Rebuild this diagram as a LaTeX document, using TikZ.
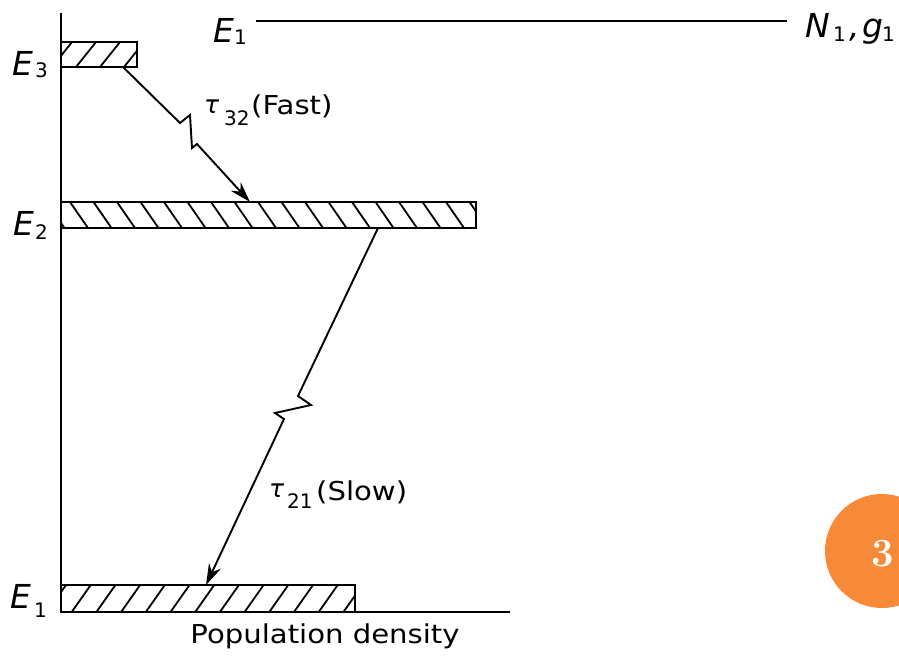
\documentclass[tikz,border=0pt]{standalone}
\usepackage{fontspec}
\newfontfamily\lab{DejaVu Sans}
\usetikzlibrary{arrows.meta,calc}
\definecolor{badge}{HTML}{F68A38}
\newcommand\widetext[1]{\scalebox{1.12}[1]{#1}}
\begin{document}
\begin{tikzpicture}[x=1pt,y=-1pt,
  lvlbox/.style={draw, line width=2.3pt, inner sep=0pt, outer sep=0pt, anchor=north west},
  hatchln/.style={line width=1.8pt},
  axisln/.style={line width=2.1pt},
  trans/.style={line width=1.9pt, line join=miter, -{Stealth[length=21pt,width=13pt]}},
  elab/.style={font=\lab\fontsize{33}{33}\selectfont\itshape, anchor=base west, inner sep=0pt},
  sublab/.style={font=\lab\fontsize{20}{20}\selectfont, anchor=base west, inner sep=0pt},
  txt/.style={font=\lab\fontsize{26}{26}\selectfont, anchor=base west, inner sep=0pt},
  taulab/.style={font=\lab\fontsize{25}{25}\selectfont\itshape, anchor=base west, inner sep=0pt},
]
\useasboundingbox (0,0) rectangle (899,659);

% hatching
\begin{scope}
  \clip (61,42) rectangle (137,67);
  \foreach \x in {52,76,...,150} \draw[hatchln] (\x,67) -- ++(20,-25);
\end{scope}
\begin{scope}
  \clip (61,202) rectangle (476,228);
  \foreach \x in {46.5,70,...,480} \draw[hatchln] (\x,202) -- ++(18,26);
\end{scope}
\begin{scope}
  \clip (61,585) rectangle (355,612);
  \foreach \x in {47,71.7,...,360} \draw[hatchln] (\x,612) -- ++(19,-27);
\end{scope}

% level boxes
\node[lvlbox, minimum width=76pt, minimum height=25pt] (e3) at (61,42) {};
\node[lvlbox, minimum width=415pt, minimum height=26pt] (e2) at (61,202) {};
\node[lvlbox, minimum width=294pt, minimum height=27pt] (e1) at (61,585) {};

% axes
\coordinate (ytop) at (61,13);
\coordinate (orig) at (61,612);
\coordinate (xend) at (510,612);
\draw[axisln] (ytop) -- (orig) -- (xend);

% level labels
\node[elab] (le3) at (12,75) {E};
\node[sublab] (le3s) at (35,77) {3};
\node[elab] (le2) at (13,235) {E};
\node[sublab] (le2s) at (35,239) {2};
\node[elab] (le1) at (10,608) {E};
\node[sublab] (le1s) at (34,617) {1};

% top line
\node[elab] (te) at (213,42) {E};
\node[sublab] (tes) at (234,44) {1};
\node[elab] (tn) at (805,37) {N};
\node[sublab] (tns) at (833,41) {1};
\node[elab] (tc) at (849,37) {,};
\node[elab] (tg) at (862,37) {g};
\node[sublab] (tgs) at (882,41) {1};
\coordinate (tl1) at (256,21);
\coordinate (tl2) at (787,21);
\draw[line width=2.3pt] (tl1) -- (tl2);

% transitions
\coordinate (a1s) at ($(e3.south west)+(62,0)$);
\coordinate (a1e) at ($(e2.north west)+(189,0)$);
\draw[trans] (a1s) -- (180,123) -- (190,115) -- (192,148) -- (197,144) -- (a1e);
\coordinate (a2s) at ($(e2.south west)+(317,0)$);
\coordinate (a2e) at ($(e1.north west)+(145,0)$);
\draw[trans] (a2s) -- (298,396) -- (311,405) -- (275,413) -- (284,419) -- (a2e);

% transition labels
\node[taulab] (t32) at (204,113) {τ};
\node[sublab] (t32s) at (224,125) {32};
\node[txt] (t32t) at (251,114) {\widetext{(Fast)}};
\node[taulab] (t21) at (269,497) {τ};
\node[sublab] (t21s) at (287,508) {21};
\node[txt] (t21t) at (316,500) {\widetext{(Slow)}};

% axis label
\node[txt, anchor=base] (pd) at (325,643) {\widetext{Population density}};

% page badge
\fill[badge] (882,551) circle (57);
\node[text=white, font=\fontsize{40}{40}\selectfont\bfseries] (pg) at (883,554) {3};
\end{tikzpicture}
\end{document}
